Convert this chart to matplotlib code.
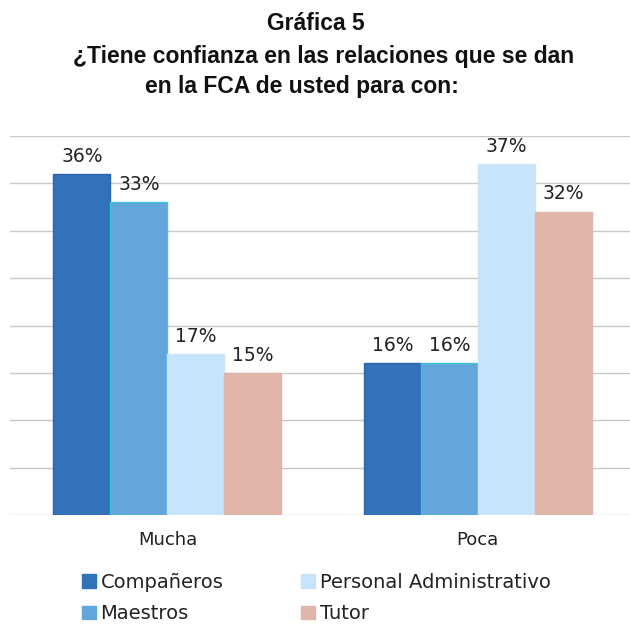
import matplotlib
matplotlib.use("Agg")
import matplotlib.pyplot as plt
import numpy as np
from matplotlib.patches import Patch

categories = ["Mucha", "Poca"]
series = ["Compañeros", "Maestros", "Personal Administrativo", "Tutor"]
values = {
    "Compañeros": [36, 16],
    "Maestros": [33, 16],
    "Personal Administrativo": [17, 37],
    "Tutor": [15, 32],
}
colors = ["#3272B8", "#62A6DC", "#C8E4FA", "#E0B6AB"]
edges = ["#2A66AE", "#3CC4D8", "#C8E4FA", "#E0B6AB"]

fig = plt.figure(figsize=(6.30, 6.26), dpi=100)
ax = fig.add_axes([10/630, (626-515)/626, 620/630, (515-136)/626])

x = np.arange(len(categories))
w = 0.1836
for i, s in enumerate(series):
    off = (i - 1.5) * w
    bars = ax.bar(x + off, values[s], width=w, color=colors[i], edgecolor=edges[i],
                  linewidth=1.0, zorder=3)
    for b, v in zip(bars, values[s]):
        ax.annotate(f"{v}%", (b.get_x() + b.get_width()/2, b.get_height()),
                    xytext=(0, 6), textcoords="offset points", ha="center", va="bottom",
                    fontsize=13.5, color="#222222", family="DejaVu Sans")

ax.set_xlim(-0.507, 1.49)
ax.set_ylim(0, 40)
ax.set_yticks(np.arange(0, 41, 5))
ax.yaxis.grid(True, color="#C8C8C8", linewidth=1.0, zorder=0)
ax.tick_params(axis="y", left=False, labelleft=False)
ax.tick_params(axis="x", bottom=False, labelsize=13, pad=8)
ax.set_xticks(x)
ax.set_xticklabels(categories, family="DejaVu Sans", color="#222222")
for sp in ax.spines.values():
    sp.set_visible(False)

title_font = dict(family=["Liberation Sans Narrow", "Liberation Sans"], weight="bold",
                  fontsize=16.5, color="#111111")
fig.text(316/630, 1 - 24/626, "Gráfica 5", ha="center", va="center", **title_font)
fig.text(324/630, 1 - 57/626, "¿Tiene confianza en las relaciones que se dan",
         ha="center", va="center", **title_font)
fig.text(145/630, 1 - 87/626, "en la FCA de usted para con:", ha="left", va="center",
         **title_font)

handles = [Patch(facecolor=c, edgecolor=c) for c in colors]
leg = fig.legend(handles, series, ncol=2, loc="center left",
                 bbox_to_anchor=(82/630, 1 - 598/626), frameon=False,
                 prop=dict(family="DejaVu Sans", size=14), handlelength=0.7,
                 handleheight=0.7, handletextpad=0.25, columnspacing=4.0,
                 labelspacing=0.65, borderpad=0, borderaxespad=0)
for t in leg.get_texts():
    t.set_color("#222222")

fig.savefig("out.png", dpi=100, facecolor="white")
